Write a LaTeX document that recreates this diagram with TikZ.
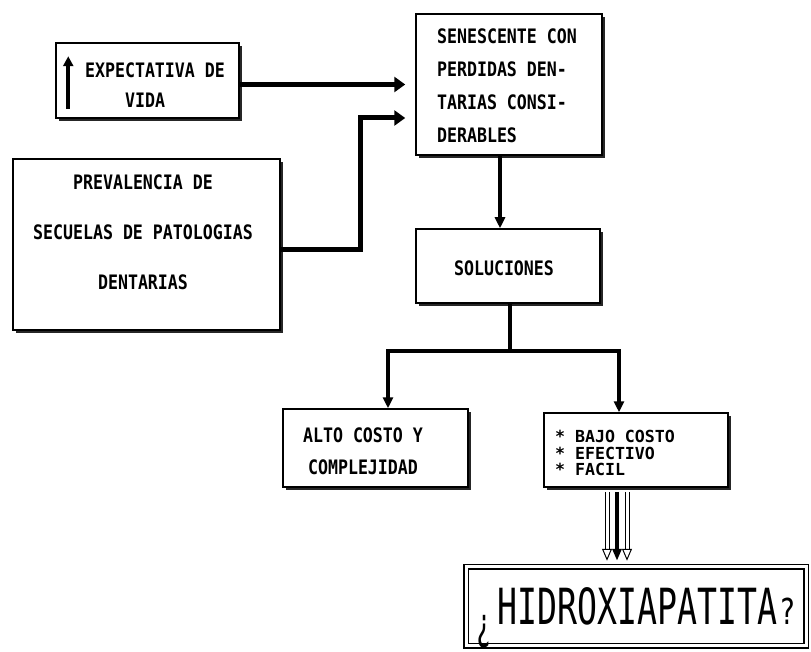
\documentclass[tikz,border=0pt]{standalone}
\usepackage{fontspec}
\setmonofont{DejaVu Sans Mono}
\usetikzlibrary{arrows.meta,shadows,calc}
\newcommand\stx[1]{\scalebox{1}[1.2]{#1}}
\begin{document}
\begin{tikzpicture}[x=1pt,y=-1pt,
  box/.style={draw, line width=1.5pt, fill=white, inner sep=0pt,
    general shadow={shadow xshift=3pt, shadow yshift=-3pt, fill=black!85}},
  txt/.style={font=\ttfamily\bfseries\fontsize{16.6}{30}\selectfont, inner sep=0pt},
  conn/.style={line width=5pt, -{Triangle[length=11pt,width=15pt]}},
  dconn/.style={line width=4.5pt, -{Triangle[length=11pt,width=10pt]}},
  hollow/.style={double=white, double distance=3pt, line width=1pt,
    -{Triangle[open,length=12pt,width=10pt,line width=1pt]}},
  solidarr/.style={line width=4.5pt, -{Triangle[length=12pt,width=9pt]}}]
\fill[white] (0,0) rectangle (811,652);
\useasboundingbox (0,0) rectangle (811,652);

% boxes
\node[box, minimum width=183pt, minimum height=75pt] (exp) at (147.5,80.5) {};
\node[box, minimum width=267pt, minimum height=171pt] (prev) at (146.5,244.5) {};
\node[box, minimum width=186pt, minimum height=141pt] (sen) at (509,84.5) {};
\node[box, minimum width=184pt, minimum height=74pt] (sol) at (508,266) {};
\node[box, minimum width=185pt, minimum height=78pt] (alto) at (375.5,448) {};
\node[box, minimum width=184pt, minimum height=74pt] (bajo) at (636,450) {};
\node[draw, double, double distance=3pt, line width=1.5pt, fill=white,
      minimum width=340pt, minimum height=79pt, inner sep=0pt,
      font=\ttfamily] (hid) at (636,606)
  {\smash{\raisebox{-15pt}{\scalebox{0.75}[1.3]{\fontsize{34}{34}\selectfont ¿}}}\hspace{6pt}%
   \scalebox{1}[1.5]{\fontsize{33.2}{33}\selectfont HIDROXIAPATITA}\hspace{2pt}%
   \scalebox{0.8}[1.05]{\fontsize{34}{34}\selectfont ?}};

% texts
\node[txt, align=left] (expT) at (155,85)
  {\stx{EXPECTATIVA DE}\\\hspace*{40pt}\stx{VIDA}};
\draw[line width=4pt, -{Triangle[length=10pt,width=10pt]}]
  ([shift={(13pt,10pt)}]exp.south west) -- ([shift={(13pt,-14pt)}]exp.north west);
\node[txt, align=center, font=\ttfamily\bfseries\fontsize{16.6}{50}\selectfont] (prevT) at (143,232.5)
  {\stx{PREVALENCIA DE}\\\stx{SECUELAS DE PATOLOGIAS}\\\stx{DENTARIAS}};
\node[txt, align=left, font=\ttfamily\bfseries\fontsize{16.6}{33}\selectfont] (senT) at (507,86)
  {\stx{SENESCENTE CON}\\\stx{PERDIDAS DEN-}\\\stx{TARIAS CONSI-}\\\stx{DERABLES}};
\node[txt] (solT) at (504,268) {\stx{SOLUCIONES}};
\node[txt, align=center, font=\ttfamily\bfseries\fontsize{16.6}{32}\selectfont] (altoT) at (363,451)
  {\stx{ALTO COSTO Y}\\\stx{COMPLEJIDAD}};
\node[txt, align=left, font=\ttfamily\bfseries\fontsize{16.6}{16.5}\selectfont] (bajoT) at (615,453)
  {* BAJO COSTO\\* EFECTIVO\\* FACIL};

% connectors
\draw[conn, shorten >=10pt] (sen.west -| exp.east) -- (sen.west);
\draw[conn, shorten >=10pt] ([yshift=-5.5pt]prev.east) -- ++(80,0) |- ([yshift=-33.5pt]sen.west);
\draw[dconn] ([xshift=-9pt]sen.south) -- ([xshift=-9pt]sen.south |- sol.north);
\draw[dconn] ([xshift=2pt]sol.south) -- ++(0,47) -| ([xshift=12.5pt]alto.north);
\draw[dconn] ([xshift=2pt]sol.south) -- ++(0,47) -| ([xshift=-17pt]bajo.north);
\draw[hollow, shorten <=4pt, shorten >=5pt] ([xshift=-29pt]bajo.south) -- ([xshift=-29pt]bajo.south |- hid.north);
\draw[hollow, shorten <=4pt, shorten >=5pt] ([xshift=-9pt]bajo.south) -- ([xshift=-9pt]bajo.south |- hid.north);
\draw[solidarr, shorten <=4pt, shorten >=5pt] ([xshift=-19pt]bajo.south) -- ([xshift=-19pt]bajo.south |- hid.north);
\end{tikzpicture}
\end{document}
